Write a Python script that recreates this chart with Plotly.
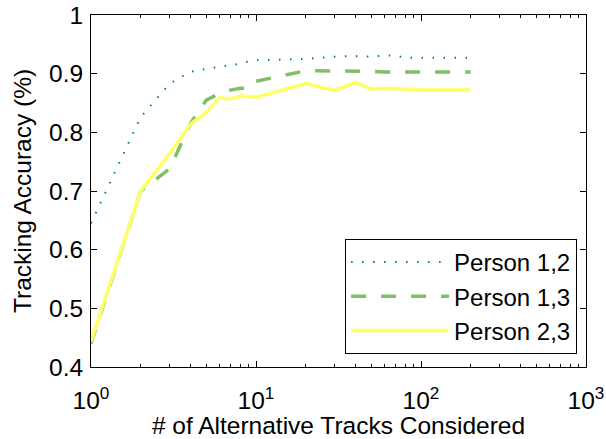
import plotly.graph_objects as go

# ---- data ----
n_tracks = [1, 2, 3, 4, 5, 6, 7, 8, 9, 10, 20, 30, 40, 50, 60, 70, 80, 90, 100, 200]
person_12 = [0.645, 0.826, 0.883, 0.903, 0.908, 0.912, 0.914, 0.917, 0.921, 0.923,
             0.925, 0.929, 0.930, 0.929, 0.931, 0.931, 0.927, 0.927, 0.927, 0.927]
person_13 = [0.440, 0.700, 0.738, 0.815, 0.855, 0.866, 0.872, 0.875, 0.875, 0.887,
             0.905, 0.905, 0.905, 0.904, 0.903, 0.903, 0.903, 0.903, 0.903, 0.903]
person_23 = [0.443, 0.700, 0.764, 0.814, 0.834, 0.859, 0.857, 0.862, 0.861, 0.860,
             0.883, 0.872, 0.885, 0.874, 0.875, 0.875, 0.874, 0.873, 0.872, 0.872]

series_names = ["Person 1,2", "Person 1,3", "Person 2,3"]
x_tickvals = [1, 10, 100, 1000]
x_ticktext = ["10<sup>0</sup>", "10<sup>1</sup>", "10<sup>2</sup>", "10<sup>3</sup>"]
x_minor = [2, 3, 4, 5, 6, 7, 8, 9, 20, 30, 40, 50, 60, 70, 80, 90,
           200, 300, 400, 500, 600, 700, 800, 900]
y_tickvals = [0.4, 0.5, 0.6, 0.7, 0.8, 0.9, 1.0]
y_ticktext = ["0.4", "0.5", "0.6", "0.7", "0.8", "0.9", "1"]

FONT = "Liberation Sans, Arial, Helvetica, sans-serif"
FS = 24.5

fig = go.Figure()
fig.add_trace(go.Scatter(x=n_tracks, y=person_12, mode="lines", name=series_names[0],
                         line=dict(color="#008066", width=2, dash="1.5px,9.5px")))
fig.add_trace(go.Scatter(x=n_tracks, y=person_13, mode="lines", name=series_names[1],
                         line=dict(color="#80BF66", width=3.5, dash="15px,15px")))
fig.add_trace(go.Scatter(x=n_tracks, y=person_23, mode="lines", name=series_names[2],
                         line=dict(color="#FFFF66", width=3.5)))

axis_common = dict(showline=True, linecolor="black", linewidth=1, mirror="ticks",
                   ticks="inside", tickcolor="black", ticklen=6, tickwidth=1,
                   showgrid=False, zeroline=False, automargin=False,
                   tickfont=dict(family=FONT, size=FS, color="black"))

fig.update_xaxes(type="log", range=[0, 3], tickmode="array", tickvals=x_tickvals,
                 ticktext=x_ticktext, ticklabelstandoff=12,
                 minor=dict(tickmode="array", tickvals=x_minor, ticks="inside",
                            ticklen=3, tickcolor="black", showgrid=False),
                 title=dict(text="# of Alternative Tracks Considered",
                            font=dict(family=FONT, size=FS, color="black"), standoff=2),
                 **axis_common)
fig.update_yaxes(range=[0.4, 1.0], tickmode="array", tickvals=y_tickvals,
                 ticktext=y_ticktext, ticklabelstandoff=2,
                 title=dict(text="Tracking Accuracy (%)",
                            font=dict(family=FONT, size=FS, color="black"), standoff=10),
                 **axis_common)

fig.update_layout(
    width=606, height=439,
    margin=dict(l=91, r=20, t=15, b=72, pad=0, autoexpand=False),
    paper_bgcolor="white", plot_bgcolor="white",
    font=dict(family=FONT, size=FS, color="black"),
    legend=dict(x=0.982, y=0.037, xanchor="right", yanchor="bottom",
                bgcolor="white", bordercolor="black", borderwidth=1,
                font=dict(family=FONT, size=24, color="black"),
                itemwidth=98, traceorder="normal"),
    showlegend=True,
)

fig.write_html("out.html")
